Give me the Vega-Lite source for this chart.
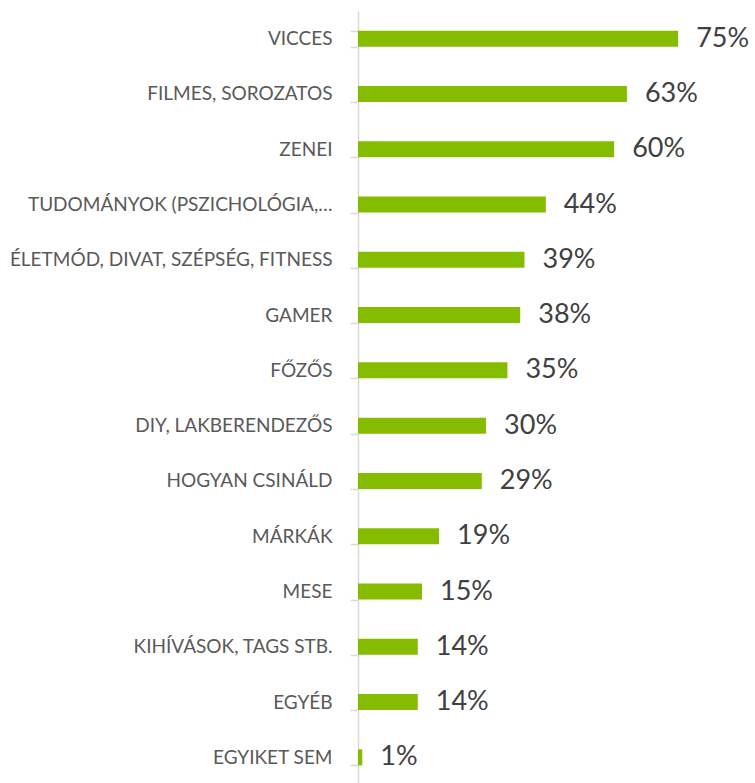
{
  "$schema": "https://vega.github.io/schema/vega-lite/v6.json",
  "autosize": {"type": "none"},
  "width": 397,
  "height": 774,
  "padding": {"left": 358, "top": 11, "right": 0, "bottom": 0},
  "background": "white",
  "config": {"view": {"stroke": null}, "font": "Lato"},
  "data": {
    "values": [
      {"kategoria": "Vicces", "arany": 0.75},
      {"kategoria": "Filmes, sorozatos", "arany": 0.63},
      {"kategoria": "Zenei", "arany": 0.60},
      {"kategoria": "Tudományok (pszichológia,…", "arany": 0.44},
      {"kategoria": "Életmód, divat, szépség, fitness", "arany": 0.39},
      {"kategoria": "Gamer", "arany": 0.38},
      {"kategoria": "Főzős", "arany": 0.35},
      {"kategoria": "DIY, lakberendezős", "arany": 0.30},
      {"kategoria": "Hogyan csináld", "arany": 0.29},
      {"kategoria": "Márkák", "arany": 0.19},
      {"kategoria": "Mese", "arany": 0.15},
      {"kategoria": "Kihívások, tags stb.", "arany": 0.14},
      {"kategoria": "Egyéb", "arany": 0.14},
      {"kategoria": "Egyiket sem", "arany": 0.01}
    ]
  },
  "encoding": {
    "y": {
      "field": "kategoria",
      "type": "nominal",
      "sort": null,
      "scale": {"paddingInner": 0.71, "paddingOuter": 0.355},
      "axis": {
        "title": null,
        "tickBand": "extent",
        "domainColor": "#d9d9d9",
        "domainWidth": 1.5,
        "tickColor": "#d9d9d9",
        "tickWidth": 1.5,
        "tickSize": 8,
        "labelPadding": 18,
        "labelFontSize": 19,
        "labelColor": "#595959",
        "labelFont": "Lato",
        "labelLimit": 400,
        "labelExpr": "upper(datum.label)"
      }
    },
    "x": {
      "field": "arany",
      "type": "quantitative",
      "scale": {"domain": [0, 0.93], "nice": false},
      "axis": null
    }
  },
  "layer": [
    {"mark": {"type": "bar", "color": "#86bc00"}},
    {
      "mark": {"type": "text", "align": "left", "baseline": "middle", "dx": 18, "fontSize": 27, "color": "#404040", "font": "Lato"},
      "encoding": {"text": {"field": "arany", "type": "quantitative", "format": ".0%"}}
    }
  ]
}
